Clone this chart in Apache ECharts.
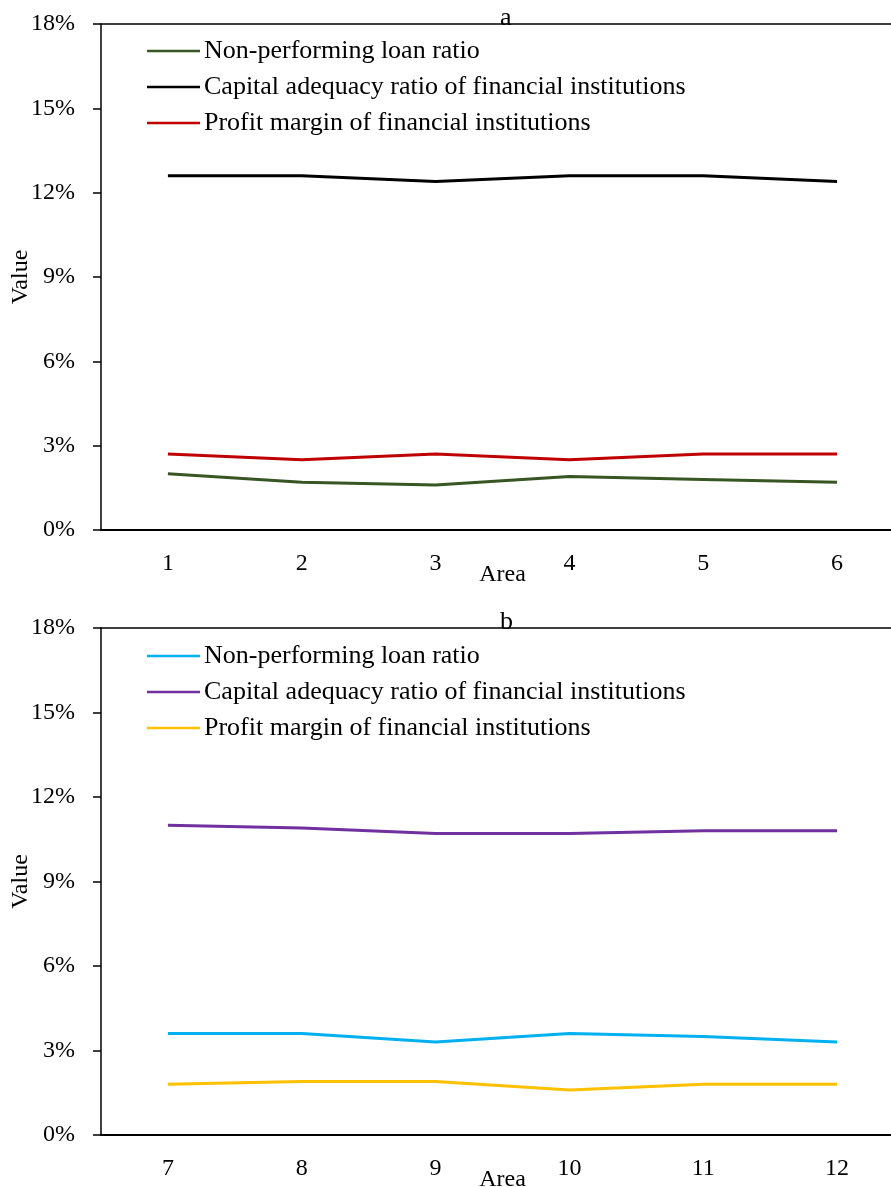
<!DOCTYPE html>
<html>
<head>
<meta charset="utf-8">
<script src="https://cdn.jsdelivr.net/npm/echarts@6/dist/echarts.min.js"></script>
<style>
  html, body { margin: 0; padding: 0; background: #fff; }
  #chartA { width: 891px; height: 600px; }
  #chartB { width: 891px; height: 587px; }
</style>
</head>
<body>
<div id="chartA"></div>
<div id="chartB"></div>
<script>
// Regional financial indicators (%), two panels of six areas each
const areasA = ['1', '2', '3', '4', '5', '6'];
const areasB = ['7', '8', '9', '10', '11', '12'];
const seriesNames = [
  'Non-performing loan ratio',
  'Capital adequacy ratio of financial institutions',
  'Profit margin of financial institutions'
];
const nplA = [2.0, 1.7, 1.6, 1.9, 1.8, 1.7];
const carA = [12.6, 12.6, 12.4, 12.6, 12.6, 12.4];
const profitA = [2.7, 2.5, 2.7, 2.5, 2.7, 2.7];
const nplB = [3.6, 3.6, 3.3, 3.6, 3.5, 3.3];
const carB = [11.0, 10.9, 10.7, 10.7, 10.8, 10.8];
const profitB = [1.8, 1.9, 1.9, 1.6, 1.8, 1.8];
const colorsA = ['#375623', '#000000', '#C00000'];
const colorsB = ['#00B0F0', '#7030A0', '#FFC000'];

const FONT = '"Liberation Serif", "Times New Roman", serif';

function panelOption(letter, cats, seriesData, colors, layout) {
  return {
    animation: false,
    textStyle: { fontFamily: FONT },
    title: {
      text: letter,
      left: 495, top: layout.titleTop,
      textStyle: { fontFamily: FONT, fontSize: 26, fontWeight: 'normal', color: '#000' }
    },
    legend: {
      orient: 'vertical',
      left: 142, top: layout.legendTop,
      icon: 'rect',
      itemWidth: 53, itemHeight: 2.5, itemGap: 10,
      data: seriesNames,
      textStyle: { fontFamily: FONT, fontSize: 26, color: '#000', lineHeight: 26, padding: [0, 0, 0, -1] }
    },
    grid: {
      left: 101, right: -13, top: layout.top, bottom: layout.bottom,
      containLabel: false, outerBoundsMode: 'none'
    },
    xAxis: [{
      type: 'category',
      data: cats,
      boundaryGap: true,
      name: 'Area',
      nameLocation: 'middle',
      nameGap: 33,
      nameMoveOverlap: false,
      nameTextStyle: { fontFamily: FONT, fontSize: 24, color: '#000' },
      axisLine: { lineStyle: { color: '#000', width: 2 } },
      axisTick: { length: 8, lineStyle: { color: '#000', width: 1.5 } },
      axisLabel: { fontFamily: FONT, fontSize: 24, color: '#000', margin: 22 }
    }, {
      type: 'category',
      data: cats,
      position: 'top',
      boundaryGap: true,
      axisLine: { lineStyle: { color: '#000', width: 1.5 } },
      axisTick: { show: false },
      axisLabel: { show: false }
    }],
    yAxis: {
      type: 'value',
      min: 0, max: 18, interval: 3,
      name: 'Value',
      nameLocation: 'middle',
      nameGap: 68,
      nameMoveOverlap: false,
      nameTextStyle: { fontFamily: FONT, fontSize: 24, color: '#000' },
      axisLine: { show: true, lineStyle: { color: '#000', width: 1.5 } },
      axisTick: { show: true, length: 8, lineStyle: { color: '#000', width: 1.5 } },
      splitLine: { show: false },
      axisLabel: { fontFamily: FONT, fontSize: 24, color: '#000', margin: 26, formatter: '{value}%' }
    },
    series: seriesData.map((d, i) => ({
      name: seriesNames[i],
      type: 'line',
      data: d,
      symbol: 'none',
      color: colors[i],
      lineStyle: { color: colors[i], width: 3 }
    }))
  };
}

const chartA = echarts.init(document.getElementById('chartA'), null, { renderer: 'canvas' });
chartA.setOption(panelOption('a', areasA, [nplA, carA, profitA], colorsA,
  { top: 24, bottom: 70, titleTop: 0, legendTop: 33 }));

const chartB = echarts.init(document.getElementById('chartB'), null, { renderer: 'canvas' });
chartB.setOption(panelOption('b', areasB, [nplB, carB, profitB], colorsB,
  { top: 28, bottom: 52, titleTop: 4, legendTop: 38 }));
</script>
</body>
</html>
